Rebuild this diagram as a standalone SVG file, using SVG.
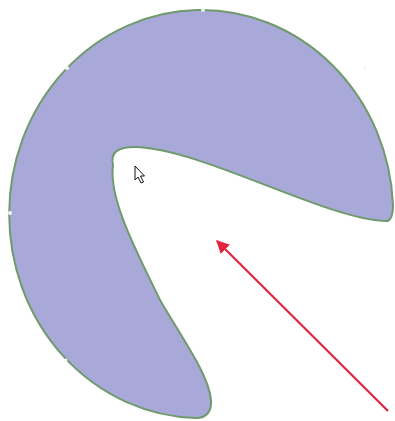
<svg xmlns="http://www.w3.org/2000/svg" width="395" height="421" viewBox="0 0 395 421">
  <style>
    .shape { fill: #a9a9d9; stroke: #6f9a6c; stroke-width: 2; stroke-linejoin: round; }
    .handle { fill: #f2f8ee; stroke: none; }
    .arrow { stroke: #e0253f; stroke-width: 2.2; fill: none; }
  </style>
  <defs>
    <marker id="head" viewBox="0 0 10 10" refX="9" refY="5" markerWidth="6" markerHeight="6" orient="auto" markerUnits="strokeWidth">
      <path d="M0,0 L10,5 L0,10 Z" fill="#e0253f"/>
    </marker>
  </defs>
  <rect width="395" height="421" fill="#ffffff"/>
  <g id="pie-shape">
    <path class="shape" d="M393,205 A192,204 0 1 0 196,418 C206,418 212,412 211,400 C209,375 182,338 160,300 C140,258 108,200 113,165 C110,152 118,147 135,147 C200,148 325,219 385,221 C391,222 393,214 393,205 Z"/>
    <circle class="handle" cx="203" cy="10" r="2"/>
    <circle class="handle" cx="67" cy="68" r="2"/>
    <circle class="handle" cx="10" cy="213" r="2"/>
    <circle class="handle" cx="365" cy="68" r="1.5"/>
    <circle class="handle" cx="66" cy="360" r="1.5"/>
  </g>
  <g id="cursor">
    <path d="M135,166 L135,180 L138,177 L141,183 L143.5,182 L140.5,176 L144.5,176 Z" fill="#ffffff" stroke="#111111" stroke-width="1"/>
  </g>
  <g id="connectors">
    <line class="arrow" x1="388" y1="411" x2="217" y2="241" marker-end="url(#head)"/>
  </g>
</svg>
